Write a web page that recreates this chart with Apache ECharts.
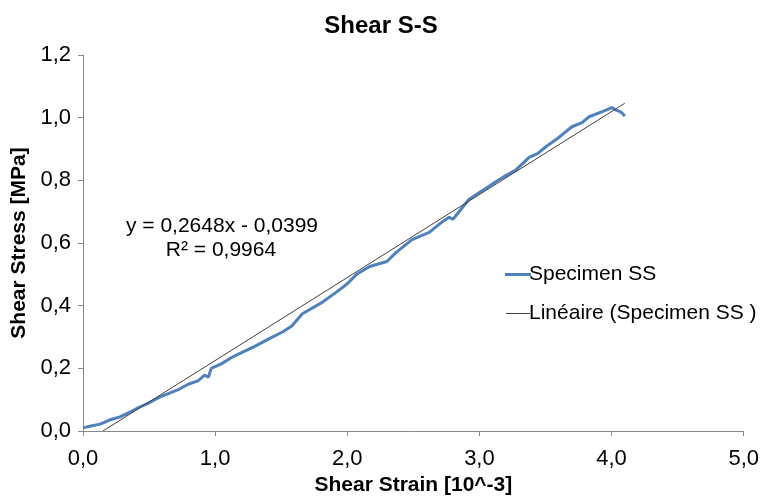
<!DOCTYPE html>
<html><head><meta charset="utf-8">
<script src="https://cdn.jsdelivr.net/npm/echarts@6/dist/echarts.min.js"></script>
<style>html,body{margin:0;padding:0;background:#fff}#c{width:762px;height:501px}</style>
</head><body><div id="c"></div>
<script>
const strain = [0.0,0.05,0.13,0.2,0.28,0.355,0.42,0.5,0.58,0.65,0.73,0.8,0.87,0.92,0.95,0.97,1.05,1.13,1.2,1.3,1.41,1.51,1.58,1.66,1.8,1.92,2.0,2.07,2.17,2.3,2.37,2.49,2.62,2.72,2.77,2.8,2.92,2.976,3.05,3.127,3.2,3.278,3.376,3.44,3.505,3.58,3.7,3.776,3.83,3.93,4.003,4.03,4.06,4.08,4.1];
const stress = [0.01,0.015,0.022,0.035,0.045,0.06,0.075,0.09,0.108,0.12,0.134,0.15,0.16,0.178,0.172,0.2,0.215,0.236,0.25,0.27,0.295,0.316,0.335,0.374,0.408,0.444,0.47,0.5,0.525,0.541,0.57,0.611,0.634,0.668,0.682,0.676,0.739,0.755,0.775,0.796,0.815,0.834,0.873,0.885,0.908,0.93,0.971,0.984,1.003,1.019,1.032,1.025,1.02,1.015,1.005];
const trendX = [0.151, 4.1];
const trendY = [0.0, 1.046];
const xTicks = {min:0, max:5, interval:1};
const yTicks = {min:0, max:1.2, interval:0.2};
const seriesNames = ['Specimen SS', 'Linéaire (Specimen SS )'];
const eqText = ['y = 0,2648x - 0,0399', 'R² = 0,9964'];

const fmt = v => v.toFixed(1).replace('.', ',');
const chart = echarts.init(document.getElementById('c'));
const font = 'Liberation Sans, Arial, sans-serif';
chart.setOption({
  animation:false,
  backgroundColor:'#fff',
  textStyle:{fontFamily:font},
  title:{text:'Shear S-S', left:'center', top:9, textStyle:{fontFamily:font, fontSize:24, fontWeight:'bold', color:'#000'}},
  grid:{left:83, right:17, top:55, bottom:69, containLabel:false},
  legend:{orient:'vertical', left:500, top:259, itemGap:18, itemWidth:26, itemHeight:3,
    textStyle:{fontFamily:font, fontSize:21, color:'#000', padding:[0,0,0,-7]},
    data:[{name:seriesNames[0], icon:'rect'},
          {name:seriesNames[1], icon:'path://M0,0M0,3M0,1L24,1L24,2L0,2Z'}]},
  xAxis:{type:'value', min:xTicks.min, max:xTicks.max, interval:xTicks.interval,
    name:'Shear Strain [10^-3]', nameLocation:'middle', nameGap:44,
    nameTextStyle:{fontFamily:font, fontSize:21, fontWeight:'bold', color:'#000'},
    axisLine:{show:true, lineStyle:{color:'#888', width:1}},
    axisTick:{show:true, length:5, lineStyle:{color:'#888'}},
    axisLabel:{fontFamily:font, fontSize:22, color:'#000', margin:17, formatter:fmt},
    splitLine:{show:false}},
  yAxis:{type:'value', min:yTicks.min, max:yTicks.max, interval:yTicks.interval,
    name:'Shear Stress [MPa]', nameLocation:'middle', nameGap:53, nameRotate:90,
    nameTextStyle:{fontFamily:font, fontSize:21, fontWeight:'bold', color:'#000'},
    axisLine:{show:true, lineStyle:{color:'#888', width:1}},
    axisTick:{show:true, length:5, lineStyle:{color:'#888'}},
    axisLabel:{fontFamily:font, fontSize:22, color:'#000', margin:12, formatter:fmt},
    splitLine:{show:false}},
  series:[
    {name:seriesNames[0], type:'line', showSymbol:false, symbol:'none', smooth:false,
     lineStyle:{color:'#4F81BD', width:3}, itemStyle:{color:'#4F81BD'},
     data:strain.map((x,i)=>[x, stress[i]]), z:2},
    {name:seriesNames[1], type:'line', showSymbol:false, symbol:'none',
     lineStyle:{color:'#404040', width:1}, itemStyle:{color:'#404040'},
     data:trendX.map((x,i)=>[x, trendY[i]]), z:3}
  ],
  graphic:[
    {type:'text', style:{text:eqText[0], x:222, y:226, align:'center', verticalAlign:'middle', fontFamily:font, fontSize:21, fill:'#000'}},
    {type:'text', style:{text:eqText[1], x:221, y:250, align:'center', verticalAlign:'middle', fontFamily:font, fontSize:21, fill:'#000'}}
  ]
});
</script></body></html>
